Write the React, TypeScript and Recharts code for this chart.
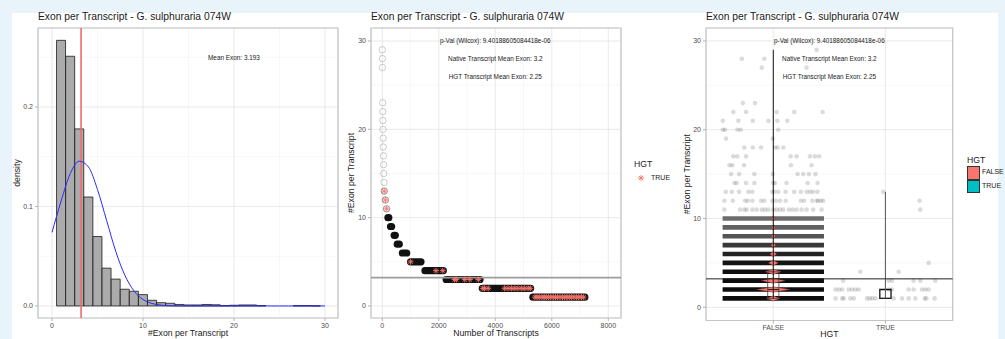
import React from "react";
import {
  ComposedChart,
  Bar,
  Line,
  Scatter,
  Area,
  XAxis,
  YAxis,
  CartesianGrid,
  ReferenceLine,
  ReferenceArea,
  ReferenceDot,
} from "recharts";

const FONT = "'Liberation Sans', Arial, Helvetica, sans-serif";
const TITLE = "Exon per Transcript - G. sulphuraria 074W";
const HGT_RED = "#F8766D";
const HGT_TEAL = "#00BFC4";

// ---------- panel 1: histogram ----------
const binCenters = [1, 2, 3, 4, 5, 6, 7, 8, 9, 10, 11, 12, 13, 14, 15, 16, 17, 18, 19, 20, 21, 22, 23, 24, 25, 26, 27, 28, 29, 30];
const binDensity = [
  0.267, 0.251, 0.178, 0.1095, 0.0698, 0.038, 0.027, 0.0168, 0.0148, 0.0114,
  0.0057, 0.0033, 0.0027, 0.0015, 0.001, 0.001, 0.0015, 0.0012, 0.0003, 0.0007,
  0.001, 0.001, 0.0004, 0, 0, 0, 0.0003, 0.0004, 0.0001, 0,
];
const curveX = [0, 1, 2, 3, 4, 5, 6, 7, 8, 9, 10, 11, 12, 13, 14, 15, 16, 17, 18, 19, 20, 21, 22, 23, 24, 25, 26, 27, 28, 29, 30];
const curveDensity = [
  0.074, 0.1055, 0.133, 0.1455, 0.1398, 0.117, 0.086, 0.055, 0.031, 0.0152, 0.0065,
  0.0025, 0.0008, 0.0002, 0.00005, 0, 0, 0, 0, 0, 0, 0, 0, 0, 0, 0, 0, 0, 0, 0, 0,
];
const meanExon = 3.193;

// ---------- panel 2: exon count by transcript rank ----------
const runLevel = [10, 9, 8, 7, 6, 5, 4, 3, 2, 1];
const runStart = [200, 290, 420, 530, 710, 1000, 1510, 2260, 3540, 5330];
const runEnd = [230, 330, 460, 600, 865, 1370, 2160, 3460, 5250, 7170];
const soloLevel = [29, 28, 27, 23, 22, 21, 20, 19, 18, 17, 16, 15, 14];
const soloRank = [0, 4, 8, 12, 16, 21, 26, 31, 36, 41, 46, 52, 58];
const fewLevel = [13, 12, 11];
const fewRank = [70, 110, 150];
const hgtLevel = [
  13, 12, 11, 5, 4, 4, 3, 3, 3, 3, 3,
  2, 2, 2, 2, 2, 2, 2, 2, 2, 2, 2, 2,
  1, 1, 1, 1, 1, 1, 1, 1, 1, 1, 1, 1, 1, 1, 1, 1, 1, 1, 1, 1, 1, 1,
];
const hgtRank = [
  70, 110, 150, 1000, 1900, 2140, 2560, 2620, 2920, 3100, 3400,
  3560, 3620, 3750, 4330, 4450, 4570, 4690, 4800, 4920, 5040, 5160, 5240,
  5400, 5480, 5560, 5650, 5730, 5800, 5880, 5960, 6050, 6130, 6200, 6290, 6380, 6460,
  6540, 6620, 6700, 6790, 6880, 6960, 7050, 7130,
];

// ---------- panel 3: FALSE / TRUE ----------
const groupPos = [1, 2];
const groupNames = ["FALSE", "TRUE"];
const boxLow = [1, 1];
const boxMid = [2, 1];
const boxHigh = [4, 2];
const rangeMin = [1, 1];
const rangeMax = [29, 13];
const denseLevel = [1, 2, 3, 4, 5, 6, 7, 8, 9, 10];
const violinHalf = [0.06, 0.15, 0.107, 0.071, 0.045, 0.031, 0.022, 0.018, 0.016, 0.015];
const falseSparseLevel = [29, 28, 27, 23, 22, 21, 20, 19, 18, 17, 16, 15, 14, 13, 12, 11];
const falseSparseX = [
  [1.386],
  [0.719, 0.92],
  [0.897, 1.297],
  [0.728, 0.837],
  [0.644, 0.757, 1.03, 1.187, 1.44],
  [0.55, 0.689, 0.817, 0.956, 1.036, 1.125],
  [0.55, 0.57, 0.68, 0.71, 1.044],
  [0.579, 0.995],
  [0.742, 0.817, 0.891, 1.015, 1.039, 1.089],
  [0.644, 0.68, 0.757, 1.155, 1.208, 1.327, 1.371, 1.409],
  [0.609, 0.635, 0.739, 1.157, 1.342],
  [0.624, 0.695, 0.831, 0.995, 1.217, 1.267, 1.318, 1.377],
  [0.653, 0.674, 0.757, 0.831, 1.0, 1.015, 1.119, 1.306, 1.395],
  [0.576, 0.63, 0.695, 0.778, 0.813, 0.991, 1.009, 1.044, 1.11, 1.187, 1.246, 1.297, 1.327, 1.356, 1.395],
  [0.564, 0.639, 0.748, 0.772, 0.813, 0.891, 0.92, 0.991, 1.024, 1.06, 1.11, 1.246, 1.276, 1.347, 1.386, 1.4, 1.424, 1.445],
  [0.564, 0.704, 0.742, 0.763, 0.813, 0.852, 0.897, 0.926, 0.956, 1.0, 1.03, 1.06, 1.089, 1.14, 1.173, 1.208, 1.253, 1.297, 1.356, 1.431],
];
const trueSparseLevel = [1, 2, 3, 4, 5, 11, 12, 13];
const trueSparseX = [
  [1.555, 1.614, 1.629, 1.688, 1.718, 1.836, 1.86, 1.884, 1.911, 2.074, 2.148, 2.207, 2.267, 2.35, 2.365, 2.439],
  [1.555, 1.585, 1.614, 1.673, 1.703, 1.733, 1.762, 2.029, 2.059, 2.207, 2.252, 2.326, 2.356, 2.385],
  [1.623, 2.029, 2.059, 2.252, 2.311, 2.445],
  [1.777, 2.118],
  [2.385],
  [2.311],
  [2.305],
  [1.979],
];
const nativeMean = 3.2;

// shades for the dense jitter rows (levels 1..10)
const BAND_GREYS = ["#0d0d0d", "#0d0d0d", "#0d0d0d", "#0f0f0f", "#141414", "#222", "#383838", "#555", "#626262", "#6c6c6c"];

const histTable = curveX.map((x, i) => {
  const b = binCenters.indexOf(x);
  return { x, curve: curveDensity[i], density: b >= 0 ? binDensity[b] : null };
});
const soloPoints = soloLevel.map((y, i) => ({ x: soloRank[i], y }));
const fewPoints = fewLevel.map((y, i) => ({ x: fewRank[i], y }));
const hgtPoints = hgtLevel.map((y, i) => ({ x: hgtRank[i], y }));
const jitterPoints = [
  ...falseSparseLevel.flatMap((y, i) => falseSparseX[i].map((x) => ({ x, y }))),
  ...trueSparseLevel.flatMap((y, i) => trueSparseX[i].map((x) => ({ x, y }))),
];

const tickStyle = { fontSize: 7, fill: "#4d4d4d", fontFamily: FONT };
const axisTitle = { fontSize: 8.7, fill: "#1a1a1a", fontFamily: FONT };
const noteStyle = { fontSize: 6.4, fill: "#1a1a1a", fontFamily: FONT };
const MAJOR = "#e3e3e3";
const MINOR = "#f1f1f1";
const BORDER = "#c4c4c4";

const OpenCircle = (p: any) => (
  <circle cx={p.cx} cy={p.cy} r={3.2} fill="none" stroke="#000" strokeOpacity={p.op ?? 0.2} strokeWidth={0.9} />
);
const Asterisk = (p: any) => {
  const r = 3;
  const d = r * 0.7071;
  return (
    <g stroke={HGT_RED} strokeWidth={0.9}>
      <line x1={p.cx - r} y1={p.cy} x2={p.cx + r} y2={p.cy} />
      <line x1={p.cx} y1={p.cy - r} x2={p.cx} y2={p.cy + r} />
      <line x1={p.cx - d} y1={p.cy - d} x2={p.cx + d} y2={p.cy + d} />
      <line x1={p.cx - d} y1={p.cy + d} x2={p.cx + d} y2={p.cy - d} />
    </g>
  );
};
const JitterDot = (p: any) => <circle cx={p.cx} cy={p.cy} r={2.3} fill="#000" fillOpacity={0.14} />;

function Title({ left }: { left: number }) {
  return (
    <div style={{ position: "absolute", left, top: 11, fontSize: 10.3, lineHeight: "12px", fontFamily: FONT, color: "#1a1a1a", whiteSpace: "nowrap" }}>
      {TITLE}
    </div>
  );
}

const axisCommon = {
  tick: tickStyle,
  tickSize: 3,
  tickMargin: 2,
  tickLine: { stroke: "#b3b3b3" },
  axisLine: false,
  allowDataOverflow: true,
};

function HistPanel() {
  return (
    <ComposedChart width={345} height={339} data={histTable} margin={{ top: 28, right: 7, left: 0, bottom: 0 }} barCategoryGap={0} barGap={0}>
      <CartesianGrid stroke={MINOR} strokeWidth={0.6} verticalValues={[5, 15, 25]} horizontalValues={[0.05, 0.15, 0.25]} />
      <CartesianGrid stroke={MAJOR} strokeWidth={0.8} />
      <XAxis
        dataKey="x"
        type="number"
        domain={[-1.54, 31.43]}
        ticks={[0, 10, 20, 30]}
        height={21}
        label={{ value: "#Exon per Transcript", position: "insideBottom", offset: 3, ...axisTitle }}
        {...axisCommon}
      />
      <YAxis
        type="number"
        domain={[-0.0121, 0.2794]}
        ticks={[0, 0.1, 0.2]}
        tickFormatter={(v: number) => v.toFixed(1)}
        width={38}
        label={{ value: "density", angle: -90, position: "insideLeft", offset: 17, style: { textAnchor: "middle" }, ...axisTitle }}
        {...axisCommon}
      />
      <Bar dataKey="density" fill="#ababab" stroke="#1a1a1a" strokeWidth={0.8} isAnimationActive={false} />
      <ReferenceLine x={meanExon} stroke="#f26a6a" strokeWidth={1.6} />
      <Line dataKey="curve" type="monotone" stroke="#2a2aff" strokeWidth={1} dot={false} activeDot={false} isAnimationActive={false} />
      <ReferenceDot x={20} y={0.25} r={0} fill="none" stroke="none" label={{ value: "Mean Exon: 3.193", position: "center", ...noteStyle }} />
      <ReferenceArea x1={-1.54} x2={31.43} y1={-0.0121} y2={0.2794} fill="none" stroke={BORDER} strokeWidth={1.2} />
    </ComposedChart>
  );
}

function RankPanel() {
  return (
    <ComposedChart width={345} height={339} margin={{ top: 28, right: 54, left: 0, bottom: 0 }}>
      <CartesianGrid stroke={MINOR} strokeWidth={0.6} verticalValues={[1000, 3000, 5000, 7000]} horizontalValues={[5, 15, 25]} />
      <CartesianGrid stroke={MAJOR} strokeWidth={0.8} />
      <XAxis
        dataKey="x"
        type="number"
        domain={[-400, 8450]}
        ticks={[0, 2000, 4000, 6000, 8000]}
        height={21}
        label={{ value: "Number of Transcripts", position: "insideBottom", offset: 3, ...axisTitle }}
        {...axisCommon}
      />
      <YAxis
        dataKey="y"
        type="number"
        domain={[-1.36, 31.47]}
        ticks={[0, 10, 20, 30]}
        width={41}
        label={{ value: "#Exon per Transcript", angle: -90, position: "insideLeft", offset: 21, style: { textAnchor: "middle" }, ...axisTitle }}
        {...axisCommon}
      />
      {runLevel.map((lv, i) => (
        <Line
          key={`run${lv}`}
          data={[{ x: runStart[i], y: lv }, { x: runEnd[i], y: lv }]}
          dataKey="y"
          type="linear"
          stroke="#111"
          strokeWidth={7.2}
          strokeLinecap="round"
          dot={false}
          activeDot={false}
          isAnimationActive={false}
        />
      ))}
      <Scatter data={soloPoints} shape={(p: any) => <OpenCircle {...p} op={0.22} />} isAnimationActive={false} />
      <Scatter data={fewPoints} shape={(p: any) => <OpenCircle {...p} op={0.45} />} isAnimationActive={false} />
      <Scatter data={hgtPoints} shape={Asterisk} isAnimationActive={false} />
      <ReferenceLine y={nativeMean} stroke="#9c9c9c" strokeWidth={1.8} />
      <ReferenceDot x={4000} y={30} r={0} fill="none" stroke="none" label={{ value: "p-Val (Wilcox): 9.40188605084418e-06", position: "center", ...noteStyle }} />
      <ReferenceDot x={4000} y={28} r={0} fill="none" stroke="none" label={{ value: "Native Transcript Mean Exon: 3.2", position: "center", ...noteStyle }} />
      <ReferenceDot x={4000} y={26} r={0} fill="none" stroke="none" label={{ value: "HGT Transcript Mean Exon: 2.25", position: "center", ...noteStyle }} />
      <ReferenceArea x1={-400} x2={8450} y1={-1.36} y2={31.47} fill="none" stroke={BORDER} strokeWidth={1.2} />
    </ComposedChart>
  );
}

function GroupPanel() {
  return (
    <ComposedChart width={340} height={339} margin={{ top: 28, right: 52.3, left: 0, bottom: 0 }}>
      <CartesianGrid stroke={MINOR} strokeWidth={0.6} vertical={false} horizontalValues={[5, 15, 25]} />
      <CartesianGrid stroke={MAJOR} strokeWidth={0.8} />
      <XAxis
        dataKey="x"
        type="number"
        domain={[0.4, 2.6]}
        ticks={groupPos}
        tickFormatter={(v: number) => groupNames[groupPos.indexOf(v)]}
        height={18.5}
        label={{ value: "HGT", position: "insideBottom", offset: 2, ...axisTitle }}
        {...axisCommon}
      />
      <YAxis
        dataKey="y"
        type="number"
        domain={[-1.49, 31.46]}
        ticks={[0, 10, 20, 30]}
        width={41}
        label={{ value: "#Exon per Transcript", angle: -90, position: "insideLeft", offset: 22, style: { textAnchor: "middle" }, ...axisTitle }}
        {...axisCommon}
      />
      {/* dense jitter rows, as filled bands */}
      {denseLevel.map((lv, i) => (
        <Area
          key={`band${lv}`}
          data={[
            { x: 0.548, v: [lv - 0.26, lv + 0.26] },
            { x: 1.452, v: [lv - 0.26, lv + 0.26] },
          ]}
          dataKey="v"
          type="linear"
          fill={BAND_GREYS[i]}
          fillOpacity={1}
          stroke="none"
          dot={false}
          activeDot={false}
          isAnimationActive={false}
        />
      ))}
      {/* violin */}
      {denseLevel.map((lv, i) => (
        <Area
          key={`vio${lv}`}
          data={[
            { x: 1 - violinHalf[i], v: [lv, lv] },
            { x: 1, v: [lv - 0.3, lv + 0.3] },
            { x: 1 + violinHalf[i], v: [lv, lv] },
          ]}
          dataKey="v"
          type="linear"
          fill={HGT_RED}
          fillOpacity={1}
          stroke="#5a2a28"
          strokeWidth={0.4}
          dot={false}
          activeDot={false}
          isAnimationActive={false}
        />
      ))}
      <Scatter data={jitterPoints} shape={JitterDot} isAnimationActive={false} />
      {groupPos.map((g, i) => (
        <ReferenceArea key={`box${g}`} x1={g - 0.05} x2={g + 0.05} y1={boxLow[i]} y2={boxHigh[i]} fill="none" stroke={i === 0 ? "#444" : "#111"} strokeWidth={i === 0 ? 0.8 : 1.3} />
      ))}
      {groupPos.map((g, i) => (
        <ReferenceLine key={`med${g}`} segment={[{ x: g - 0.05, y: boxMid[i] }, { x: g + 0.05, y: boxMid[i] }]} stroke="#222" strokeWidth={1} />
      ))}
      {groupPos.map((g, i) => (
        <ReferenceLine key={`rng${g}`} segment={[{ x: g, y: rangeMin[i] }, { x: g, y: rangeMax[i] }]} stroke={i === 0 ? "#111" : "#555"} strokeWidth={1} />
      ))}
      <ReferenceLine y={nativeMean} stroke="#222" strokeWidth={1} />
      <ReferenceDot x={1.5} y={30} r={0} fill="none" stroke="none" label={{ value: "p-Val (Wilcox): 9.40188605084418e-06", position: "center", ...noteStyle }} />
      <ReferenceDot x={1.5} y={28} r={0} fill="none" stroke="none" label={{ value: "Native Transcript Mean Exon: 3.2", position: "center", ...noteStyle }} />
      <ReferenceDot x={1.5} y={26} r={0} fill="none" stroke="none" label={{ value: "HGT Transcript Mean Exon: 2.25", position: "center", ...noteStyle }} />
      <ReferenceArea x1={0.4} x2={2.6} y1={-1.49} y2={31.46} fill="none" stroke={BORDER} strokeWidth={1.2} />
    </ComposedChart>
  );
}

const abs = (left: number, top: number, extra: any = {}) => ({ position: "absolute" as const, left, top, ...extra });

export default function App() {
  return (
    <div style={abs(0, 0, { width: 1005, height: 339, background: "#e8f3fa", overflow: "hidden", fontFamily: FONT })}>
      <div style={abs(12, 13, { width: 986, height: 326, background: "#fff" })} />
      <div style={abs(0, 0)}>
        <HistPanel />
      </div>
      <div style={abs(330, 0)}>
        <RankPanel />
      </div>
      <div style={abs(665, 0)}>
        <GroupPanel />
      </div>
      <Title left={38} />
      <Title left={371} />
      <Title left={706} />

      {/* legend, rank panel */}
      <div style={abs(634, 159, { fontSize: 8.7, lineHeight: "11px", color: "#1a1a1a" })}>HGT</div>
      <svg style={abs(637, 174)} width={8} height={8}>
        <Asterisk cx={4} cy={4} />
      </svg>
      <div style={abs(651, 174, { fontSize: 7, lineHeight: "8px", color: "#1a1a1a" })}>TRUE</div>

      {/* legend, group panel */}
      <div style={abs(967, 155, { fontSize: 8.7, lineHeight: "11px", color: "#1a1a1a" })}>HGT</div>
      <div style={abs(967, 166, { width: 11, height: 12, background: HGT_RED, border: "1px solid #333" })} />
      <div style={abs(967, 180, { width: 11, height: 11, background: HGT_TEAL, border: "1px solid #333" })} />
      <div style={abs(982, 168, { fontSize: 7, lineHeight: "8px", color: "#1a1a1a" })}>FALSE</div>
      <div style={abs(982, 182, { fontSize: 7, lineHeight: "8px", color: "#1a1a1a" })}>TRUE</div>
    </div>
  );
}
